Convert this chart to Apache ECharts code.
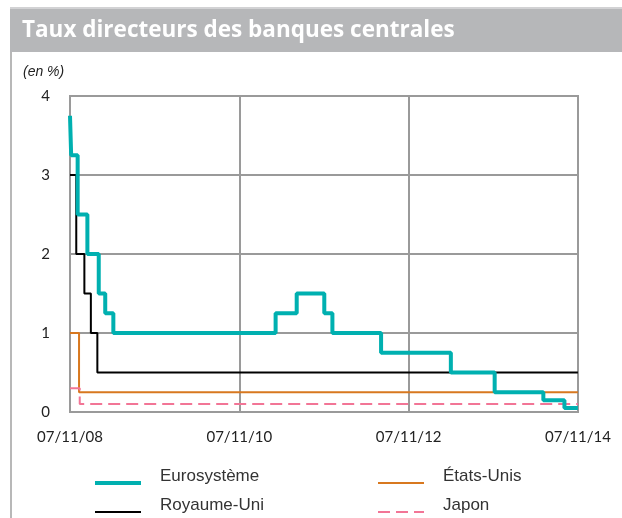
<!DOCTYPE html>
<html>
<head>
<meta charset="utf-8">
<script src="https://cdn.jsdelivr.net/npm/echarts@6/dist/echarts.min.js"></script>
<style>
  html, body { margin: 0; padding: 0; background: #fff; }
  #chart { width: 622px; height: 518px; }
</style>
</head>
<body>
<div id="chart"></div>
<script>
// Policy rate change dates (new rate applies from that day) and rates, in %
const startDate = '2008-11-07';
const endDate = '2014-11-07';

const euroDates = ['2008-11-07', '2008-11-12', '2008-12-10', '2009-01-21', '2009-03-11', '2009-04-08',
  '2009-05-13', '2011-04-13', '2011-07-13', '2011-11-09', '2011-12-14', '2012-07-11',
  '2013-05-08', '2013-11-13', '2014-06-11', '2014-09-10', '2014-11-07'];
const euroRates = [3.75, 3.25, 2.5, 2.0, 1.5, 1.25, 1.0, 1.25, 1.5, 1.25, 1.0, 0.75, 0.5, 0.25, 0.15, 0.05, 0.05];

const ukDates = ['2008-11-07', '2008-12-04', '2009-01-08', '2009-02-05', '2009-03-05', '2014-11-07'];
const ukRates = [3.0, 2.0, 1.5, 1.0, 0.5, 0.5];

const usDates = ['2008-11-07', '2008-12-16', '2014-11-07'];
const usRates = [1.0, 0.25, 0.25];

const jpDates = ['2008-11-07', '2008-12-19', '2014-11-07'];
const jpRates = [0.3, 0.1, 0.1];

const seriesNames = ['Eurosystème', 'Royaume-Uni', 'États-Unis', 'Japon'];
const xTickLabels = ['07/11/08', '07/11/10', '07/11/12', '07/11/14'];
const yTicks = [0, 1, 2, 3, 4];

// x axis measured in months elapsed since the start date
const MS_DAY = 86400000;
const t0 = Date.parse(startDate);
function months(d) { return (Date.parse(d) - t0) / MS_DAY / (365.25 / 12); }
function pairs(dates, rates) { return dates.map((d, i) => [months(d), rates[i]]); }

// line styles shared by series and the key below the plot
const styles = {
  'Eurosystème': { color: '#00b0b0', width: 4 },
  'Royaume-Uni': { color: '#000000', width: 2 },
  'États-Unis': { color: '#d8781f', width: 2 },
  'Japon': { color: '#f27596', width: 2, type: [12, 6] }
};

// two-column key: swatch line + label
const keyCols = [95, 378];
const keyRows = [483, 512];
const keyGraphics = [];
seriesNames.forEach((name, i) => {
  const x = keyCols[Math.floor(i / 2)];
  const y = keyRows[i % 2];
  const st = styles[name];
  keyGraphics.push({
    type: 'line', shape: { x1: x, y1: y, x2: x + 46, y2: y },
    style: { stroke: st.color, lineWidth: st.width, lineDash: st.type || null }
  });
  keyGraphics.push({
    type: 'text', x: x + 65, y: y - 7,
    style: { text: name, fill: '#333', font: '17px "Liberation Sans", Arial, sans-serif', textVerticalAlign: 'middle' }
  });
});

const chart = echarts.init(document.getElementById('chart'));

chart.setOption({
  animation: false,
  graphic: [
    { type: 'rect', shape: { x: 10, y: 8, width: 612, height: 44 }, style: { fill: '#b6b7b9' } },
    { type: 'rect', shape: { x: 10, y: 7, width: 612, height: 2 }, style: { fill: '#d2d2d4' } },
    { type: 'rect', shape: { x: 10, y: 52, width: 2, height: 466 }, style: { fill: '#b8b8b8' } },
    { type: 'text', x: 22, y: 31, style: { text: 'Taux directeurs des banques centrales', fill: '#fff',
      font: 'bold 22.5px "Open Sans", Lato, sans-serif', textVerticalAlign: 'middle' } },
    { type: 'text', x: 23, y: 72, style: { text: '(en %)', fill: '#222',
      font: 'italic 14px "Liberation Sans", Arial, sans-serif', textVerticalAlign: 'middle' } }
  ].concat(keyGraphics),
  grid: { left: 70, right: 44, top: 96, bottom: 106, show: true, borderColor: '#9a9a9a', borderWidth: 2 },
  xAxis: {
    type: 'value', min: 0, max: 72, interval: 24,
    axisLine: { show: false }, axisTick: { show: false },
    splitLine: { show: true, lineStyle: { color: '#9a9a9a', width: 2 } },
    axisLabel: { margin: 18, color: '#222', fontFamily: 'Lato, sans-serif', fontSize: 15,
      formatter: v => xTickLabels[Math.round(v / 24)] }
  },
  yAxis: {
    type: 'value', min: 0, max: 4, interval: 1,
    axisLine: { show: false }, axisTick: { show: false },
    splitLine: { show: true, lineStyle: { color: '#9a9a9a', width: 2 } },
    axisLabel: { margin: 20, color: '#222', fontFamily: 'Lato, sans-serif', fontSize: 15,
      formatter: v => String(yTicks[v]) }
  },
  series: [
    { name: 'États-Unis', type: 'line', step: 'end', symbol: 'none', z: 2,
      data: pairs(usDates, usRates), lineStyle: styles['États-Unis'] },
    { name: 'Japon', type: 'line', step: 'end', symbol: 'none', z: 2,
      data: pairs(jpDates, jpRates), lineStyle: styles['Japon'] },
    { name: 'Royaume-Uni', type: 'line', step: 'end', symbol: 'none', z: 3,
      data: pairs(ukDates, ukRates), lineStyle: styles['Royaume-Uni'] },
    { name: 'Eurosystème', type: 'line', step: 'end', symbol: 'none', z: 4,
      data: pairs(euroDates, euroRates), lineStyle: styles['Eurosystème'] }
  ]
});
</script>
</body>
</html>
